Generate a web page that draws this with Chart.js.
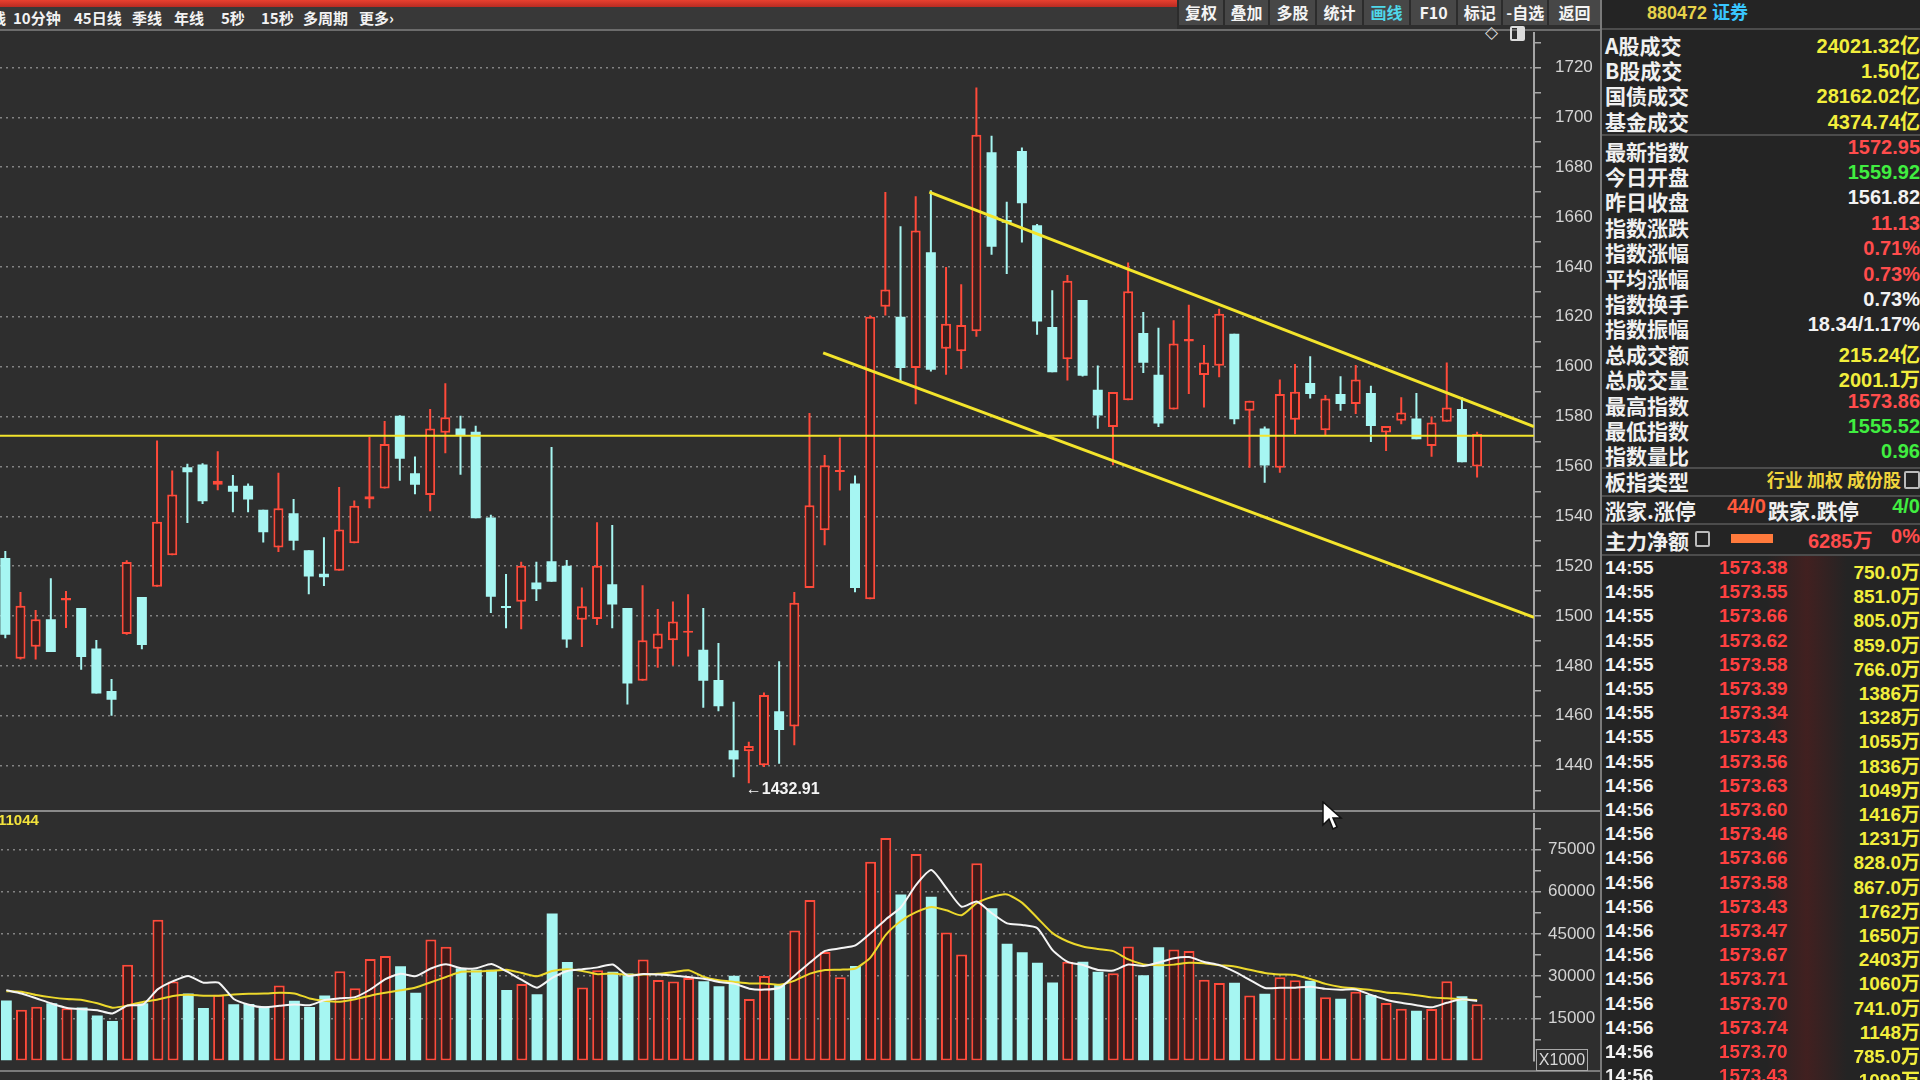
<!DOCTYPE html>
<html>
<head>
<meta charset="utf-8">
<script src="https://cdn.jsdelivr.net/npm/chart.js@4.4.1/dist/chart.umd.min.js"></script>
<style>
  body { margin:0; width:1920px; height:1080px; overflow:hidden; background:#2e2e2e; position:relative;
         font-family:"Liberation Sans","Noto Sans CJK SC",sans-serif; }
  .abs { position:absolute; }
  #redbar { left:0; top:0; width:1177px; height:7px; background:linear-gradient(#e8402f,#b92b22); }
  #toolbar { left:0; top:7px; width:1177px; height:22px; background:#383838; }
  #toolbar span { position:absolute; top:1px; color:#f2f2f2; font:bold 15px "Noto Sans CJK SC",sans-serif; line-height:20px; white-space:nowrap; }
  #btnbar { left:1177px; top:0; width:423px; height:25px; background:#474747; display:flex; }
  #btnbar div { border-left:2px solid #2c2c2c; color:#f4f4f4; font:bold 16px "Noto Sans CJK SC",sans-serif; line-height:24px; text-align:center; }
  #topline { left:0; top:29px; width:1600px; height:2px; background:#6c6c6c; }
  #priceBox { left:0; top:9.5px; width:1600px; height:821px; }
  #volBox { left:0; top:797.5px; width:1600px; height:282.5px; }
  #sep { left:0; top:810px; width:1600px; height:2px; background:#8a8a8a; }
  #bottomline { left:0; top:1070px; width:1600px; height:2px; background:#7a7a7a; }
  #x1000 { left:1536px; top:1049px; width:50px; height:20px; border:1px solid #a8a8a8; color:#d8d8d8; font:16px "Liberation Sans"; line-height:20px; text-align:center; }
  #vollabel { left:-2px; top:811px; color:#f2e23c; font:bold 15px "Liberation Sans"; }
  #panel { left:1600px; top:0; width:320px; height:1080px; background:#242424; border-left:2px solid #7a7a7a; box-sizing:border-box; }
  .row { position:absolute; left:3px; width:315px; height:26px; line-height:26px; font:bold 21px "Noto Sans CJK SC",sans-serif; color:#f0f0f0; white-space:nowrap; }
  .row .v { position:absolute; right:0; top:0; font:bold 20px "Liberation Sans","Noto Sans CJK SC",sans-serif; }
  .hl { position:absolute; left:0; width:320px; height:2px; background:#4c4c4c; }
  .tick { position:absolute; left:3px; width:315px; height:24px; line-height:24px; font:bold 19px "Liberation Sans","Noto Sans CJK SC",sans-serif; white-space:nowrap; }
</style>
</head>
<body>
<div id="redbar" class="abs"></div>
<div id="toolbar" class="abs"></div>
<div id="btnbar" class="abs"></div>
<div id="topline" class="abs"></div>
<div class="abs" style="left:1485px;top:22px;color:#dcdcdc;font:17px 'DejaVu Sans'">◇</div>
<div class="abs" style="left:1510px;top:26px;width:11px;height:11px;border:2px solid #dcdcdc;border-radius:2px;background:linear-gradient(90deg,transparent 50%,#dcdcdc 50%)"></div>
<div id="priceBox" class="abs"><canvas id="priceChart"></canvas></div>
<div id="volBox" class="abs"><canvas id="volChart"></canvas></div>
<div id="sep" class="abs"></div>
<div id="bottomline" class="abs"></div>
<div id="x1000" class="abs">X1000</div>
<div id="vollabel" class="abs">11044</div>
<svg class="abs" style="left:1322px;top:801px" width="22" height="32" viewBox="0 0 22 32">
  <path d="M1 1 L1 24 L7 18 L11 28 L15 26 L11 17 L19 17 Z" fill="#fff" stroke="#111" stroke-width="1.5"/>
</svg>
<div id="panel" class="abs"></div>

<script>
// ------------------------------------------------------------------
//  Daily candles (index)
// ------------------------------------------------------------------
const opens = [
  1523.3, 1482.9, 1487.7, 1498.7, 1506.2, 1503.2, 1487.0, 1469.9, 1492.8, 1507.6,
  1511.7, 1524.4, 1559.7, 1560.8, 1552.6, 1552.2, 1552.2, 1542.6, 1527.5, 1541.2,
  1526.4, 1516.9, 1518.1, 1529.2, 1546.7, 1551.1, 1580.3, 1557.2, 1548.5, 1573.5,
  1575.2, 1573.9, 1539.5, 1503.9, 1505.7, 1513.4, 1522.0, 1520.2, 1498.5, 1498.8,
  1512.7, 1503.2, 1474.0, 1486.9, 1490.3, 1493.3, 1486.5, 1474.3, 1446.2, 1445.8,
  1440.1, 1461.8, 1455.7, 1511.2, 1534.4, 1557.7, 1553.1, 1506.7, 1624.0, 1620.0,
  1599.5, 1645.9, 1607.2, 1606.2, 1614.2, 1686.0, 1658.8, 1686.5, 1656.7, 1615.9,
  1603.0, 1626.7, 1590.7, 1575.8, 1586.5, 1613.5, 1596.7, 1582.8, 1610.1, 1596.6,
  1600.4, 1613.2, 1582.3, 1575.2, 1559.5, 1578.7, 1593.4, 1574.5, 1589.0, 1585.0,
  1589.4, 1573.6, 1578.3, 1579.2, 1568.2, 1577.9, 1583.0, 1559.92
];
const highs = [
  1526.1, 1509.6, 1502.4, 1515.1, 1510.0, 1503.2, 1490.4, 1474.7, 1522.4, 1507.6,
  1570.4, 1558.3, 1561.1, 1561.3, 1566.1, 1556.5, 1553.1, 1542.6, 1557.4, 1546.9,
  1526.4, 1531.6, 1551.7, 1546.3, 1571.8, 1578.2, 1580.5, 1564.0, 1583.0, 1593.3,
  1580.3, 1576.3, 1540.6, 1516.8, 1521.8, 1521.8, 1567.8, 1522.5, 1511.4, 1537.6,
  1536.5, 1503.2, 1512.3, 1502.8, 1505.8, 1508.7, 1503.2, 1489.2, 1465.6, 1449.6,
  1469.3, 1481.9, 1509.6, 1581.4, 1564.6, 1571.6, 1556.3, 1620.5, 1670.0, 1656.3,
  1668.3, 1670.7, 1640.0, 1633.0, 1711.9, 1692.6, 1666.1, 1687.9, 1657.2, 1630.6,
  1636.8, 1626.7, 1600.5, 1589.8, 1641.8, 1621.9, 1615.6, 1618.6, 1624.8, 1608.7,
  1623.2, 1613.2, 1586.3, 1576.0, 1594.8, 1601.1, 1604.2, 1588.6, 1596.1, 1600.7,
  1592.3, 1576.2, 1587.7, 1589.4, 1580.0, 1601.7, 1587.7, 1573.86
];
const lows = [
  1491.1, 1482.6, 1482.6, 1485.6, 1495.2, 1478.4, 1468.9, 1460.0, 1492.5, 1486.7,
  1511.7, 1524.4, 1537.3, 1544.9, 1550.4, 1541.6, 1541.6, 1529.5, 1525.7, 1526.4,
  1508.7, 1512.0, 1518.1, 1529.2, 1543.2, 1551.1, 1554.2, 1548.8, 1542.0, 1565.3,
  1556.6, 1539.2, 1501.2, 1495.1, 1494.7, 1506.0, 1513.7, 1487.3, 1487.6, 1496.4,
  1495.1, 1464.5, 1474.0, 1479.2, 1480.1, 1483.8, 1463.2, 1461.8, 1435.3, 1432.91,
  1439.4, 1440.7, 1448.2, 1511.2, 1528.4, 1550.3, 1509.5, 1506.7, 1620.5, 1594.0,
  1584.9, 1598.1, 1596.7, 1599.1, 1612.0, 1644.9, 1637.2, 1649.8, 1612.8, 1597.7,
  1594.4, 1596.0, 1575.1, 1560.5, 1586.5, 1597.4, 1575.8, 1582.8, 1589.0, 1583.6,
  1595.7, 1576.9, 1559.5, 1553.4, 1557.4, 1572.9, 1587.2, 1572.2, 1582.3, 1581.0,
  1569.8, 1566.2, 1576.9, 1570.9, 1563.9, 1577.9, 1561.7, 1555.52
];
const closes = [
  1492.5, 1504.1, 1498.7, 1485.6, 1507.2, 1483.6, 1468.9, 1466.4, 1521.7, 1488.4,
  1537.8, 1548.7, 1557.6, 1546.0, 1554.2, 1549.8, 1546.7, 1533.6, 1543.2, 1530.2,
  1515.8, 1515.5, 1534.7, 1544.2, 1548.0, 1569.0, 1563.1, 1552.6, 1575.2, 1579.7,
  1572.5, 1539.2, 1507.7, 1503.2, 1520.2, 1510.7, 1513.7, 1490.6, 1503.9, 1520.2,
  1504.6, 1472.9, 1490.3, 1493.0, 1497.8, 1493.7, 1474.0, 1463.8, 1442.5, 1447.9,
  1468.3, 1454.3, 1505.3, 1544.4, 1560.5, 1558.4, 1511.2, 1620.0, 1630.9, 1599.5,
  1654.6, 1598.8, 1617.2, 1616.7, 1693.0, 1648.1, 1657.7, 1665.5, 1618.1, 1597.7,
  1634.4, 1596.3, 1580.4, 1589.8, 1630.2, 1601.6, 1577.2, 1609.3, 1611.1, 1601.7,
  1621.2, 1578.9, 1586.3, 1560.4, 1589.0, 1589.9, 1589.0, 1587.2, 1585.0, 1594.8,
  1576.2, 1576.2, 1581.6, 1570.9, 1577.6, 1583.6, 1561.7, 1572.95
];

// volume (x1000) and its two moving-average lines
const volumes = [
  21350, 18060, 19150, 20310, 18540, 18800, 15980, 14030, 34000, 20380,
  50000, 28060, 23850, 18670, 23360, 20000, 20050, 19250, 26620, 21200,
  19050, 23130, 31750, 25680, 36110, 37140, 33540, 24070, 43040, 40410,
  32780, 32220, 32290, 25060, 27150, 23550, 52280, 35010, 25910, 32070,
  31520, 30960, 35900, 28640, 28090, 29360, 28200, 26420, 30140, 21900,
  30010, 27000, 46190, 57030, 38570, 29600, 33570, 70640, 79090, 58990,
  73410, 58230, 45500, 37650, 70110, 54140, 41480, 38500, 34720, 27770,
  35070, 35120, 31560, 31050, 40490, 30330, 40230, 39470, 38920, 28700,
  27570, 27660, 23080, 23740, 29630, 28500, 28360, 22500, 21960, 24440,
  23320, 20430, 18370, 17670, 18320, 28150, 22800, 20011
];
const volMa5 = [
  25010, 23830, 22040, 20240, 18700, 18240, 17900, 16720, 19560, 19840,
  25370, 28210, 30070, 27670, 27700, 21880, 19840, 18900, 19430, 19950,
  19620, 21490, 22120, 22530, 25240, 28940, 30810, 29990, 32710, 34210,
  32780, 32820, 34320, 31670, 28660, 25890, 29340, 31810, 32460, 33100,
  34110, 30120, 30770, 30560, 30230, 29660, 29090, 27900, 27330, 25540,
  25210, 25850, 30240, 34830, 38940, 39870, 40900, 45230, 50160, 54480,
  62450, 67710, 61300, 54660, 56530, 52320, 48740, 48180, 47040, 39230,
  35070, 33920, 32170, 32020, 34120, 33580, 34830, 36360, 36770, 35030,
  33900, 31600, 28680, 25760, 25830, 25890, 26230, 25460, 25170, 25270,
  23320, 21610, 20500, 19660, 18910, 20500, 21750, 21150
];
const volMa10 = [
  24650, 24440, 23260, 22440, 21870, 21540, 20340, 18790, 19560, 20820,
  21710, 22960, 23370, 23040, 23060, 23460, 23740, 23780, 24060, 23850,
  22060, 21240, 20900, 21790, 23050, 24060, 24950, 25960, 27830, 29700,
  31560, 31600, 31880, 32280, 31100, 29920, 31780, 32420, 31850, 30660,
  30940, 30490, 30530, 30810, 31450, 32100, 29700, 28510, 27940, 27370,
  27400, 26950, 28390, 30900, 32190, 32290, 32710, 36680, 44670, 49600,
  52710, 54570, 53400, 51620, 55920, 58140, 59030, 56040, 50670, 45270,
  42300, 40540, 39630, 38870, 35920, 34170, 33870, 34080, 34740, 34560,
  33900, 33390, 32250, 31120, 30580, 30400, 28950, 27240, 26110, 25620,
  25090, 24210, 23800, 23200, 22440, 22150, 21750, 21500
];

// axis ticks (minor ticks between the labelled ones)
const priceTicks = [1430, 1440, 1450, 1460, 1470, 1480, 1490, 1500, 1510, 1520, 1530, 1540, 1550, 1560, 1570,
                    1580, 1590, 1600, 1610, 1620, 1630, 1640, 1650, 1660, 1670, 1680, 1690, 1700, 1710, 1720, 1730];
const volTicks = [7500, 15000, 22500, 30000, 37500, 45000, 52500, 60000, 67500, 75000, 82500];

// hand-drawn yellow lines: [candle index, price]
const supportLevel = 1572.3;
const upperTrend = [[60.9, 1670.0], [100.75, 1576.0]];
const lowerTrend = [[53.9, 1605.5], [100.75, 1499.5]];
const lowMark = { index: 49, value: 1432.91 };

// ------------------------------------------------------------------
//  Side panel text
// ------------------------------------------------------------------
const toolbarItems = [['线', -9], ['10分钟', 13], ['45日线', 74], ['季线', 132], ['年线', 174],
                      ['5秒', 221], ['15秒', 261], ['多周期', 303], ['更多›', 359]];
const buttons = [['复权', 46], ['叠加', 45], ['多股', 47], ['统计', 47], ['画线', 47],
                 ['F10', 47], ['标记', 45], ['-自选', 46], ['返回', 53]];

const Y = '#f2ee3c', R = '#ff4c4c', G = '#40ee40', W = '#f2f2f2';
const tradeRows = [['A股成交', '24021.32亿', Y], ['B股成交', '1.50亿', Y], ['国债成交', '28162.02亿', Y], ['基金成交', '4374.74亿', Y]];
const indexRows = [
  ['最新指数', '1572.95', R], ['今日开盘', '1559.92', G], ['昨日收盘', '1561.82', W],
  ['指数涨跌', '11.13', R], ['指数涨幅', '0.71%', R], ['平均涨幅', '0.73%', R],
  ['指数换手', '0.73%', W], ['指数振幅', '18.34/1.17%', W], ['总成交额', '215.24亿', Y],
  ['总成交量', '2001.1万', Y], ['最高指数', '1573.86', R], ['最低指数', '1555.52', G], ['指数量比', '0.96', G]
];
const tickTimes = ['14:55', '14:55', '14:55', '14:55', '14:55', '14:55', '14:55', '14:55', '14:55', '14:56', '14:56',
                   '14:56', '14:56', '14:56', '14:56', '14:56', '14:56', '14:56', '14:56', '14:56', '14:56', '14:56'];
const tickPrices = ['1573.38', '1573.55', '1573.66', '1573.62', '1573.58', '1573.39', '1573.34', '1573.43', '1573.56', '1573.63', '1573.60',
                    '1573.46', '1573.66', '1573.58', '1573.43', '1573.47', '1573.67', '1573.71', '1573.70', '1573.74', '1573.70', '1573.43'];
const tickVols = ['750.0万', '851.0万', '805.0万', '859.0万', '766.0万', '1386万', '1328万', '1055万', '1836万', '1049万', '1416万',
                  '1231万', '828.0万', '867.0万', '1762万', '1650万', '2403万', '1060万', '741.0万', '1148万', '785.0万', '1099万'];

// ------------------------------------------------------------------
//  Build the HTML parts
// ------------------------------------------------------------------
const toolbar = document.getElementById('toolbar');
toolbarItems.forEach(([t, x]) => {
  const s = document.createElement('span');
  s.textContent = t; s.style.left = x + 'px';
  toolbar.appendChild(s);
});
const btnbar = document.getElementById('btnbar');
buttons.forEach(([t, w]) => {
  const d = document.createElement('div');
  d.textContent = t; d.style.width = w + 'px';
  if (t === '画线') d.style.color = '#4fd8ea';
  btnbar.appendChild(d);
});

const panel = document.getElementById('panel');
function addRow(label, value, color, center) {
  const r = document.createElement('div');
  r.className = 'row'; r.style.top = (center - 13) + 'px';
  r.innerHTML = label + `<span class="v" style="color:${color}">${value}</span>`;
  panel.appendChild(r);
  return r;
}
function addLine(y) {
  const l = document.createElement('div');
  l.className = 'hl'; l.style.top = y + 'px';
  panel.appendChild(l);
}
panel.innerHTML = '<div style="position:absolute;left:45px;top:0;font:bold 18px \'Liberation Sans\';line-height:22px;color:#e6d24a">880472 <span style="color:#39c6ff;font-family:\'Noto Sans CJK SC\'">证券</span></div>';
addLine(28);
tradeRows.forEach((r, i) => addRow(r[0], r[1], r[2], 43 + i * 25.2));
addLine(134);
indexRows.forEach((r, i) => addRow(r[0], r[1], r[2], 148.5 + i * 25.4));
addLine(467);
addRow('板指类型', '<span style="font:bold 18px \'Noto Sans CJK SC\';color:#f0d43c">行业 加权 成份股</span>' +
       '<span style="display:inline-block;width:12px;height:14px;margin-left:3px;border:2px solid #bbb;border-radius:2px;vertical-align:-2px"></span>', W, 479);
addLine(495);
const zj = addRow('涨家.涨停', '<span style="color:#40ee40">4/0</span>', W, 508);
zj.insertAdjacentHTML('beforeend',
  '<span style="position:absolute;left:122px;color:#ff5a3c;font:bold 20px \'Liberation Sans\'">44/0</span>' +
  '<span style="position:absolute;left:163px">跌家.跌停</span>');
addLine(523);
const zl = addRow('主力净额', '<span style="color:#ff4c4c">0%</span>', W, 538);
zl.insertAdjacentHTML('beforeend',
  '<span style="position:absolute;left:90px;top:6px;width:11px;height:12px;border:2px solid #bbb;border-radius:2px"></span>' +
  '<span style="position:absolute;left:126px;top:9px;width:42px;height:9px;background:#ff7a3c"></span>' +
  '<span style="position:absolute;left:203px;color:#ff4c4c;font:bold 20px \'Liberation Sans\',\'Noto Sans CJK SC\'">6285万</span>');
addLine(554);
panel.insertAdjacentHTML('beforeend',
  '<div style="position:absolute;left:165px;top:556px;width:80px;height:524px;background:linear-gradient(90deg,rgba(0,0,0,0),rgba(120,25,25,0.35),rgba(0,0,0,0))"></div>');
tickTimes.forEach((t, i) => {
  const d = document.createElement('div');
  d.className = 'tick'; d.style.top = (557 + i * 24.2) + 'px';
  d.innerHTML = `<span style="color:#f2f2f2">${t}</span>` +
    `<span style="position:absolute;left:114px;color:#ff4040">${tickPrices[i]}</span>` +
    `<span style="position:absolute;right:0;color:#f2ee3c">${tickVols[i]}</span>`;
  panel.appendChild(d);
});

// ------------------------------------------------------------------
//  Charts
// ------------------------------------------------------------------
Chart.defaults.font.family = '"Liberation Sans","DejaVu Sans",sans-serif';
Chart.defaults.animation = false;

const RED = '#ff4a3a', CYAN = '#a6f6f2', RED_FILL = '#3a1f1d', YEL = '#f3e42c';
const xMin = -0.35, xMax = 100.75;
const isUp = i => closes[i] >= opens[i];

const xScale = { type: 'linear', min: xMin, max: xMax, offset: false, display: false };

// label height 17 -> the scale pads top/bottom by 8.5 + tick padding,
// the boxes above are placed so the plot areas land on 32..808 and 813..1060
function yAxis(min, max, tickList, isLabel, padding) {
  return {
    position: 'right', min, max,
    afterBuildTicks: s => { s.ticks = tickList.map(v => ({ value: v })); },
    afterFit: s => { s.width = 66; },
    ticks: { color: '#d4d4d4', font: { size: 17, lineHeight: 1 }, padding, autoSkip: false,
             callback: v => isLabel(v) ? String(v) : '' },
    grid: { color: c => (c.tick && isLabel(c.tick.value)) ? 'rgba(160,160,160,0.75)' : 'rgba(0,0,0,0)',
            lineWidth: 1.5, tickColor: '#a8a8a8', tickLength: 7, tickWidth: 1.5 },
    border: { display: true, color: '#a5a5a5', width: 2, dash: [2, 4] }
  };
}

// "←1432.91" at the low of the move
const lowLabel = {
  id: 'lowLabel',
  afterDatasetsDraw(chart) {
    const { ctx, scales: { x, y } } = chart;
    ctx.save();
    ctx.font = 'bold 16px "Liberation Sans","DejaVu Sans"';
    ctx.fillStyle = '#f4f4f4';
    ctx.textBaseline = 'middle';
    ctx.fillText('←' + lowMark.value.toFixed(2), x.getPixelForValue(lowMark.index) - 3, y.getPixelForValue(lowMark.value) + 6);
    ctx.restore();
  }
};

const yLine = (pts, w) => ({
  type: 'line', data: pts.map(([x, y]) => ({ x, y })), borderColor: YEL, borderWidth: w,
  pointRadius: 0, order: 1
});

new Chart(document.getElementById('priceChart'), {
  type: 'bar',
  data: {
    datasets: [
      { data: lows.map((l, i) => ({ x: i, y: [l, highs[i]] })),
        backgroundColor: c => isUp(c.dataIndex) ? RED : CYAN,
        borderWidth: 0, maxBarThickness: 2, grouped: false, order: 3 },
      { data: opens.map((o, i) => ({ x: i, y: [o, closes[i]] })),
        backgroundColor: c => isUp(c.dataIndex) ? RED_FILL : CYAN,
        borderColor: c => isUp(c.dataIndex) ? RED : CYAN,
        borderWidth: c => isUp(c.dataIndex) ? 2 : 0,
        borderSkipped: false, maxBarThickness: 10, minBarLength: 2, grouped: false, order: 2 },
      yLine([[xMin, supportLevel], [xMax, supportLevel]], 2),
      yLine(upperTrend, 3),
      yLine(lowerTrend, 3)
    ]
  },
  options: {
    responsive: true, maintainAspectRatio: false,
    layout: { padding: 0 },
    plugins: { legend: { display: false }, tooltip: { enabled: false } },
    scales: { x: xScale, y: yAxis(1422.8, 1734.0, priceTicks, v => v % 20 === 0, 14) }
  },
  plugins: [lowLabel]
});

new Chart(document.getElementById('volChart'), {
  type: 'bar',
  data: {
    datasets: [
      { data: volumes.map((v, i) => ({ x: i, y: v })),
        backgroundColor: c => isUp(c.dataIndex) ? '#3e1a18' : CYAN,
        borderColor: c => isUp(c.dataIndex) ? RED : CYAN,
        borderWidth: c => isUp(c.dataIndex) ? 2 : 0,
        borderSkipped: false, maxBarThickness: 11, grouped: false, order: 2 },
      { type: 'line', data: volMa5.map((v, i) => ({ x: i, y: v })), borderColor: '#f4f4f4',
        borderWidth: 2, pointRadius: 0, tension: 0.2, order: 1 },
      { type: 'line', data: volMa10.map((v, i) => ({ x: i, y: v })), borderColor: '#ecd82c',
        borderWidth: 2, pointRadius: 0, tension: 0.2, order: 1 }
    ]
  },
  options: {
    responsive: true, maintainAspectRatio: false,
    layout: { padding: { top: 0, right: 0, bottom: 20, left: 0 } },
    plugins: { legend: { display: false }, tooltip: { enabled: false } },
    scales: { x: xScale, y: yAxis(0, 87800, volTicks, v => v % 15000 === 0, 7) }
  }
});
</script>
</body>
</html>
